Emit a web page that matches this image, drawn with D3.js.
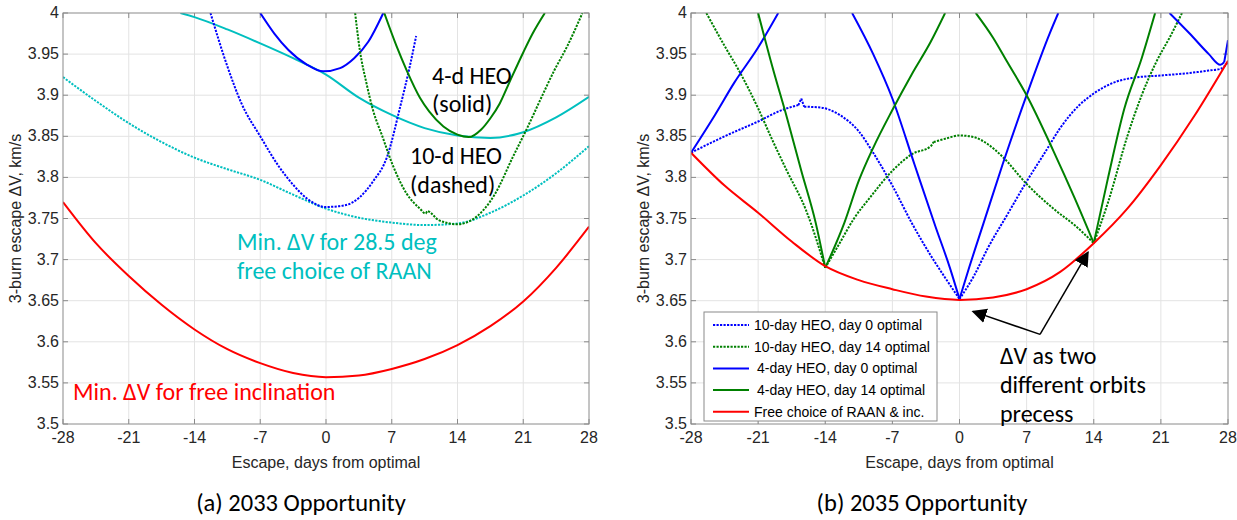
<!DOCTYPE html>
<html>
<head>
<meta charset="utf-8">
<script src="https://cdn.jsdelivr.net/npm/d3@7"></script>
<style>
  html, body { margin: 0; padding: 0; background: #fff; }
  svg { display: block; }
  .tick-label { font-family: "Liberation Sans", Arial, Helvetica, sans-serif; font-size: 16px; fill: #262626; }
  .axis-title { font-family: "Liberation Sans", Arial, Helvetica, sans-serif; font-size: 16px; fill: #262626; }
  .note { font-family: Carlito, Lato, "Open Sans", sans-serif; font-size: 24px; }
  .caption { font-family: Carlito, Lato, "Open Sans", sans-serif; font-size: 24.5px; fill: #000; }
  .legend-text { font-family: "Liberation Sans", Arial, Helvetica, sans-serif; font-size: 14px; fill: #000; }
</style>
</head>
<body>
<svg id="fig" width="1237" height="520"></svg>
<script>
// ---- axis ticks ----
const xTicks = [-28, -21, -14, -7, 0, 7, 14, 21, 28];
const yTicks = [3.5, 3.55, 3.6, 3.65, 3.7, 3.75, 3.8, 3.85, 3.9, 3.95, 4];

// ---- 2033 opportunity: [day from optimal, escape dV km/s]; null breaks a line ----
const freeIncl2033 = [[-28,3.77],[-24.5,3.72],[-21,3.68],[-17.5,3.645],[-14,3.615],[-10.5,3.591],[-7,3.574],[-3.5,3.562],[0,3.557],[3.5,3.559],[7,3.567],[10.5,3.579],[14,3.596],[17.5,3.619],[21,3.649],[24.5,3.69],[28,3.74]];
const raan4d2033 = [[-15.5,4.0],[-14,3.995],[-10.5,3.98],[-7,3.963],[-3.5,3.945],[0,3.925],[3.5,3.897],[7,3.876],[10.5,3.86],[14,3.851],[17.5,3.848],[21,3.855],[24.5,3.873],[28,3.898]];
const raan10d2033 = [[-28,3.922],[-24.5,3.893],[-21,3.866],[-17.5,3.843],[-14,3.824],[-10.5,3.81],[-7,3.797],[-3.5,3.779],[0,3.762],[3.5,3.751],[7,3.745],[10.5,3.742],[14,3.744],[17.5,3.757],[21,3.778],[24.5,3.805],[28,3.838]];
const heo4dDay0_2033 = [[-7,4.0],[-5.5,3.975],[-4,3.955],[-2,3.937],[-0.3,3.929],[1.5,3.933],[3,3.945],[4.5,3.965],[6.1,4.0]];
const heo10dDay0_2033 = [[-12.3,4.0],[-10.5,3.935],[-9,3.89],[-7,3.85],[-5,3.813],[-3.5,3.791],[-2,3.774],[0,3.764],[2,3.766],[3.6,3.776],[5,3.795],[6.5,3.825],[7.9,3.886],[8.9,3.934],[9.6,3.972]];
const heo4dDay14_2033 = [[6.2,4.0],[7.5,3.96],[8.6,3.93],[10,3.897],[11,3.88],[12.5,3.862],[14,3.852],[15.2,3.849],[16.5,3.858],[17.5,3.872],[18.5,3.89],[19.5,3.915],[21,3.952],[22,3.975],[23.3,4.0]];
const heo10dDay14_2033 = [[3.1,4.0],[3.6,3.955],[4.3,3.915],[5,3.882],[6,3.85],[7,3.818],[8.6,3.78],[10,3.762],[10.6,3.756],[10.8,3.759],[12,3.748],[14,3.743],[16,3.752],[18,3.78],[19.9,3.825],[21.5,3.862],[22.8,3.894],[24.3,3.93],[25.7,3.96],[27.3,4.0]];

// ---- 2035 opportunity ----
const free2035 = [[-28,3.83],[-24.5,3.79],[-21,3.757],[-17.5,3.722],[-14,3.692],[-10.5,3.675],[-7,3.664],[-3.5,3.655],[0,3.651],[3.5,3.654],[7,3.664],[10.5,3.685],[14,3.72],[17.5,3.762],[21,3.815],[24.5,3.875],[28,3.942]];
const heo10dDay0_2035 = [[-28,3.83],[-24.5,3.85],[-21,3.868],[-18.5,3.882],[-16.8,3.888],[-16.5,3.896],[-16.2,3.886],[-14.5,3.885],[-12.5,3.876],[-10.5,3.856],[-9,3.83],[-7,3.79],[-5,3.745],[-3,3.705],[-1.5,3.678],[0,3.652],[1.5,3.68],[3,3.715],[5,3.755],[7,3.795],[9,3.832],[10.5,3.86],[12.5,3.888],[14,3.902],[16,3.915],[18,3.921],[21,3.924],[24,3.927],[26,3.93],[27.2,3.932],[28,3.94]];
const heo10dDay14_2035 = [[-26.4,4.0],[-24.5,3.96],[-23,3.93],[-21,3.884],[-19.5,3.845],[-18,3.808],[-16,3.76],[-14,3.69],[-12.5,3.72],[-11,3.75],[-9.3,3.776],[-7,3.808],[-5,3.828],[-3,3.838],[-2.7,3.843],[-1.5,3.847],[0,3.851],[1.5,3.849],[3,3.84],[4.5,3.825],[7,3.792],[10,3.76],[12,3.742],[14,3.72],[15.5,3.77],[17.5,3.85],[19,3.9],[20.5,3.94],[22,3.972],[23.2,4.0]];
const heo4dDay0_2035 = [[-28,3.83],[-25.5,3.876],[-23.5,3.915],[-21,3.958],[-18.9,4.0],null,[-11.2,4.0],[-9,3.95],[-7,3.896],[-4.7,3.816],[-2.5,3.74],[-1,3.69],[0,3.652],[1,3.69],[2.5,3.744],[4.5,3.816],[7,3.9],[9.4,3.975],[10.3,4.0],null,[21.9,4.0],[24,3.975],[26,3.95],[27.2,3.937],[27.6,3.94],[28,3.967]];
const heo4dDay14_2035 = [[-21,4.0],[-19.5,3.934],[-18,3.873],[-16.5,3.808],[-15,3.745],[-14,3.69],[-12,3.745],[-10.5,3.796],[-9,3.836],[-7,3.882],[-5,3.925],[-3,3.965],[-1.5,4.0],null,[1.7,4.0],[3.5,3.97],[5,3.94],[7,3.9],[9.8,3.832],[12,3.775],[14,3.72],[15.5,3.8],[17.2,3.884],[19,3.945],[20.4,4.0]];

const legendLabels = ["10-day HEO, day 0 optimal", "10-day HEO, day 14 optimal", "4-day HEO, day 0 optimal", "4-day HEO, day 14 optimal", "Free choice of RAAN & inc."];

// ---- colours and styles ----
const BLUE = "#0000ff", GREEN = "#008000", RED = "#ff0000", CYAN = "#00bfbf";
const DOTTED = "2.2,1.3";

const svg = d3.select("#fig");

// split a series into smooth pieces at nulls and at the listed corner days
function pieces(data, corners) {
  const out = [];
  let cur = [];
  data.forEach(p => {
    if (p === null) { if (cur.length) out.push(cur); cur = []; return; }
    cur.push(p);
    if (corners.includes(p[0])) { out.push(cur); cur = [p]; }
  });
  if (cur.length > 1) out.push(cur);
  return out;
}

function drawPanel(id, left, right, top, bottom, series) {
  const x = d3.scaleLinear().domain([-28, 28]).range([left, right]);
  const y = d3.scaleLinear().domain([3.5, 4]).range([bottom, top]);
  const g = svg.append("g");

  g.append("clipPath").attr("id", "clip-" + id)
    .append("rect").attr("x", left).attr("y", top).attr("width", right - left).attr("height", bottom - top);

  // grid
  g.append("g").selectAll("line").data(xTicks.slice(1, -1)).join("line")
    .attr("x1", d => x(d)).attr("x2", d => x(d)).attr("y1", top).attr("y2", bottom)
    .attr("stroke", "#e3e3e3").attr("stroke-width", 1);
  g.append("g").selectAll("line").data(yTicks.slice(1, -1)).join("line")
    .attr("y1", d => y(d)).attr("y2", d => y(d)).attr("x1", left).attr("x2", right)
    .attr("stroke", "#e3e3e3").attr("stroke-width", 1);

  // inward ticks on all four sides
  const axisColor = "#8a8a8a";
  const tl = 5;
  const ticks = g.append("g").attr("stroke", axisColor).attr("stroke-width", 1);
  xTicks.forEach(t => {
    ticks.append("line").attr("x1", x(t)).attr("x2", x(t)).attr("y1", bottom).attr("y2", bottom - tl);
    ticks.append("line").attr("x1", x(t)).attr("x2", x(t)).attr("y1", top).attr("y2", top + tl);
  });
  yTicks.forEach(t => {
    ticks.append("line").attr("y1", y(t)).attr("y2", y(t)).attr("x1", left).attr("x2", left + tl);
    ticks.append("line").attr("y1", y(t)).attr("y2", y(t)).attr("x1", right).attr("x2", right - tl);
  });

  // tick labels
  g.append("g").selectAll("text").data(xTicks).join("text")
    .attr("class", "tick-label").attr("x", d => x(d)).attr("y", bottom + 19)
    .attr("text-anchor", "middle").text(d => d);
  g.append("g").selectAll("text").data(yTicks).join("text")
    .attr("class", "tick-label").attr("x", left - 4).attr("y", d => y(d) + 5)
    .attr("text-anchor", "end").text(d => String(+d.toFixed(2)));

  // axis titles
  g.append("text").attr("class", "axis-title")
    .attr("x", (left + right) / 2).attr("y", bottom + 44).attr("text-anchor", "middle")
    .text("Escape, days from optimal");
  g.append("text").attr("class", "axis-title")
    .attr("transform", `translate(${left - 42},${(top + bottom) / 2}) rotate(-90)`)
    .attr("text-anchor", "middle").text("3-burn escape \u0394V, km/s");

  // data lines
  const line = d3.line().curve(d3.curveMonotoneX).x(p => x(p[0])).y(p => y(p[1]));
  const lines = g.append("g").attr("clip-path", `url(#clip-${id})`);
  series.forEach(s => {
    pieces(s.data, s.corners || []).forEach(part => {
      lines.append("path").datum(part).attr("d", line)
        .attr("fill", "none").attr("stroke", s.color).attr("stroke-width", 2)
        .attr("stroke-linejoin", "round")
        .attr("stroke-dasharray", s.dotted ? DOTTED : null);
    });
  });

  // box
  g.append("rect").attr("x", left).attr("y", top).attr("width", right - left).attr("height", bottom - top)
    .attr("fill", "none").attr("stroke", axisColor).attr("stroke-width", 1);

  return { g, x, y };
}

// ---- (a) 2033 ----
const A = drawPanel("a", 63, 589, 13, 424, [
  { data: raan4d2033, color: CYAN },
  { data: raan10d2033, color: CYAN, dotted: true },
  { data: heo10dDay0_2033, color: BLUE, dotted: true },
  { data: heo4dDay0_2033, color: BLUE },
  { data: heo10dDay14_2033, color: GREEN, dotted: true },
  { data: heo4dDay14_2033, color: GREEN },
  { data: freeIncl2033, color: RED }
]);

function note(panel, px, py, lines, color, lh) {
  const t = panel.g.append("text").attr("class", "note").attr("fill", color);
  lines.forEach((s, i) => t.append("tspan").attr("x", px).attr("y", py + i * lh).text(s));
}
note(A, 432, 84, ["4-d HEO", "(solid)"], "#000", 28);
note(A, 410, 164, ["10-d HEO", "(dashed)"], "#000", 29);
note(A, 237, 250, ["Min. \u0394V for 28.5 deg", "free choice of RAAN"], CYAN, 29);
note(A, 73, 400, ["Min. \u0394V for free inclination"], RED, 28);

// ---- (b) 2035 ----
const B = drawPanel("b", 691, 1228, 13, 424, [
  { data: heo10dDay0_2035, color: BLUE, dotted: true, corners: [-16.8, -16.5, -16.2, 0] },
  { data: heo10dDay14_2035, color: GREEN, dotted: true, corners: [-14, -2.7, 14] },
  { data: heo4dDay0_2035, color: BLUE, corners: [0, 27.6] },
  { data: heo4dDay14_2035, color: GREEN, corners: [-14, 14] },
  { data: free2035, color: RED }
]);

// legend
const legendStyles = [
  { color: BLUE, dotted: true }, { color: GREEN, dotted: true },
  { color: BLUE }, { color: GREEN }, { color: RED }
];
const lg = B.g.append("g");
lg.append("rect").attr("x", 704).attr("y", 312).attr("width", 233).attr("height", 109)
  .attr("fill", "#fff").attr("stroke", "#8a8a8a").attr("stroke-width", 1);
legendLabels.forEach((lab, i) => {
  const yy = 325 + i * 21.7;
  lg.append("line").attr("x1", 713).attr("x2", 749).attr("y1", yy).attr("y2", yy)
    .attr("stroke", legendStyles[i].color).attr("stroke-width", 2)
    .attr("stroke-dasharray", legendStyles[i].dotted ? DOTTED : null);
  lg.append("text").attr("class", "legend-text")
    .attr("x", i === 2 || i === 3 ? 757 : 754).attr("y", yy + 5).text(lab);
});

// precession annotation with two arrows from a common vertex
const defs = svg.append("defs");
defs.append("marker").attr("id", "head").attr("viewBox", "0 0 10 10")
  .attr("refX", 9).attr("refY", 5).attr("markerWidth", 15).attr("markerHeight", 15)
  .attr("markerUnits", "userSpaceOnUse").attr("orient", "auto")
  .append("path").attr("d", "M0,0 L10,5 L0,10 Z").attr("fill", "#000");
const vx = B.x(8.4), vy = B.y(3.609);
[[1.4, 3.637], [13.4, 3.709]].forEach(([d, v]) => {
  B.g.append("line").attr("x1", vx).attr("y1", vy).attr("x2", B.x(d)).attr("y2", B.y(v))
    .attr("stroke", "#000").attr("stroke-width", 1.5).attr("marker-end", "url(#head)");
});
note(B, 1000, 364, ["\u0394V as two", "different orbits", "precess"], "#000", 29);

// captions
svg.append("text").attr("class", "caption").attr("x", 301).attr("y", 511).attr("text-anchor", "middle").text("(a) 2033 Opportunity");
svg.append("text").attr("class", "caption").attr("x", 922).attr("y", 511).attr("text-anchor", "middle").text("(b) 2035 Opportunity");
</script>
</body>
</html>
